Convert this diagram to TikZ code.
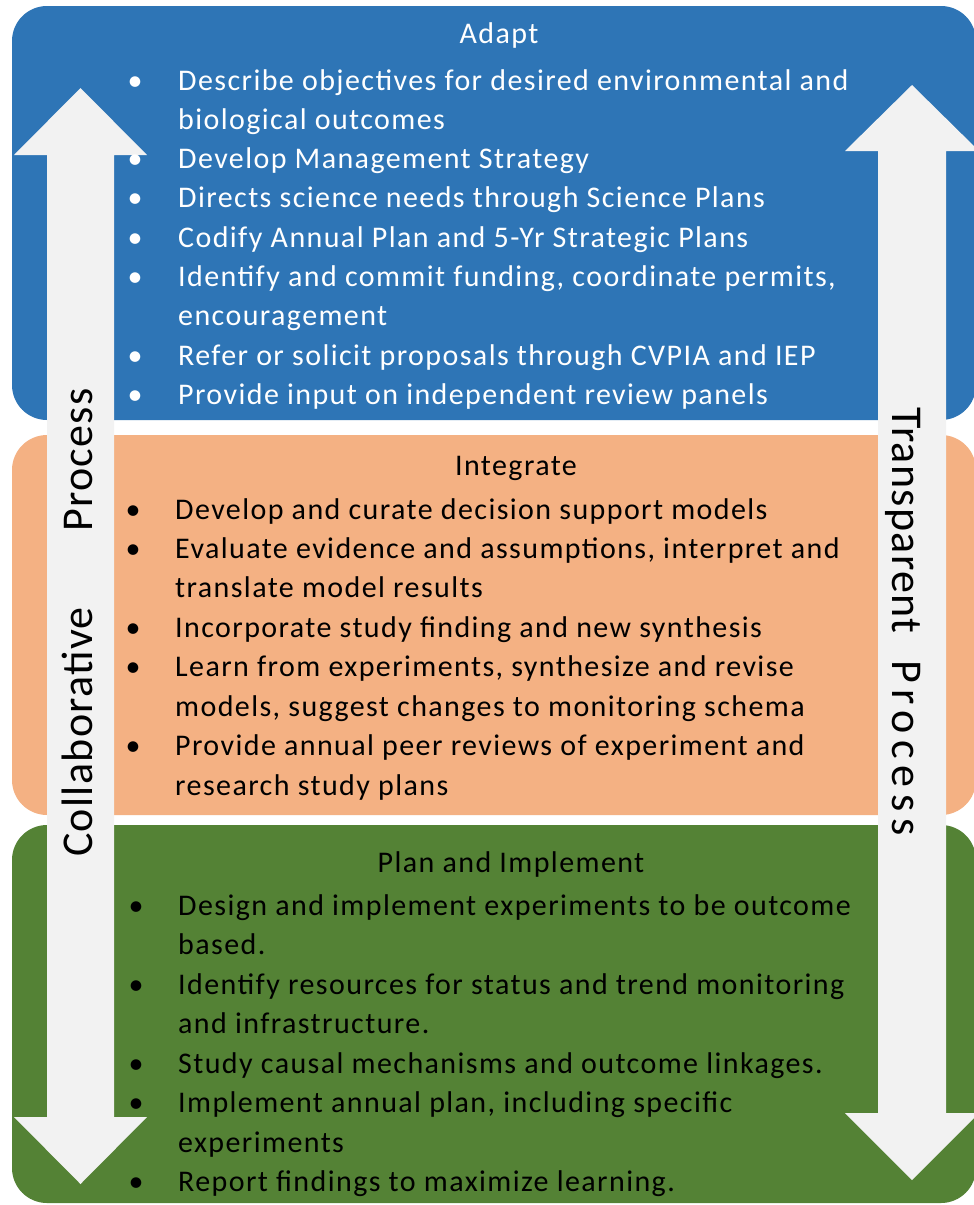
\documentclass[tikz,border=0pt]{standalone}
\usepackage{fontspec}
\setmainfont{Carlito}
\newfontfamily\bodyfont[LetterSpace=4.7]{Carlito}
\newfontfamily\sidefont[LetterSpace=3]{Carlito}
\newfontfamily\sidefontwide[LetterSpace=15]{Carlito}
\definecolor{adaptblue}{HTML}{2E75B6}
\definecolor{integorange}{HTML}{F4B183}
\definecolor{plangreen}{HTML}{548235}
\definecolor{arrowgray}{HTML}{F2F2F2}
\tikzset{
  bodytxt/.style={anchor=base west, inner sep=0pt, font=\bodyfont\fontsize{30}{36}\selectfont},
  bul/.style={anchor=base, inner sep=0pt, font=\fontsize{30}{36}\selectfont},
  ttl/.style={anchor=base, inner sep=0pt, font=\bodyfont\fontsize{30}{36}\selectfont},
  sidetxt/.style={anchor=base west, inner sep=0pt, rotate=#1, font=\sidefont\fontsize{44}{50}\selectfont},
}
\begin{document}
\begin{tikzpicture}[x=1pt, y=-1pt]
\useasboundingbox (0,0) rectangle (974,1205);
\fill[white] (0,0) rectangle (974,1205);
% the three panels
\fill[adaptblue, rounded corners=35pt] (12,6) rectangle (976,420);
\fill[integorange, rounded corners=35pt] (12,435) rectangle (976,815);
\fill[plangreen, rounded corners=35pt] (12,825) rectangle (976,1203);
% double arrows
\fill[arrowgray] (80.5,88) -- (147,155) -- (114,155) -- (114,1117) -- (147,1117) -- (80.5,1184)
  -- (14,1117) -- (47,1117) -- (47,155) -- (14,155) -- cycle;
\fill[arrowgray] (912,85) -- (979,151) -- (946,151) -- (946,1113) -- (979,1113) -- (912,1180)
  -- (845,1113) -- (878,1113) -- (878,151) -- (845,151) -- cycle;
\node[sidetxt=90] (collab) at (92,857) {Collaborative};
\node[sidetxt=90] (cproc) at (92,532) {Process};
\node[sidetxt=-90, font=\sidefont\fontsize{44}{50}\selectfont] (transp) at (892,407) {Transparent};
\node[sidetxt=-90, font=\sidefontwide\fontsize{44}{50}\selectfont] (tproc) at (892,660) {Process};
% Adapt
\node[ttl, white] (adapt) at (499,43) {Adapt};
\node[bul, white] (ab1) at (135,90) {\textbullet};
\node[bodytxt, white] (a1) at (178,90) {Describe objectives for desired environmental and};
\node[bodytxt, white] (a1b) at (178,129.3) {biological outcomes};
\node[bul, white] (ab2) at (135,168.6) {\textbullet};
\node[bodytxt, white] (a2) at (178,168.6) {Develop Management Strategy};
\node[bul, white] (ab3) at (135,207.9) {\textbullet};
\node[bodytxt, white] (a3) at (178,207.9) {Directs science needs through Science Plans};
\node[bul, white] (ab4) at (135,247.2) {\textbullet};
\node[bodytxt, white] (a4) at (178,247.2) {Codify Annual Plan and 5-Yr Strategic Plans};
\node[bul, white] (ab5) at (135,286.5) {\textbullet};
\node[bodytxt, white] (a5) at (178,286.5) {Identify and commit funding, coordinate permits,};
\node[bodytxt, white] (a5b) at (178,325.8) {encouragement};
\node[bul, white] (ab6) at (135,365.1) {\textbullet};
\node[bodytxt, white] (a6) at (178,365.1) {Refer or solicit proposals through CVPIA and IEP};
\node[bul, white] (ab7) at (135,404.4) {\textbullet};
\node[bodytxt, white] (a7) at (178,404.4) {Provide input on independent review panels};
% Integrate
\node[ttl] (integ) at (516,475) {Integrate};
\node[bul] (ib1) at (133,519) {\textbullet};
\node[bodytxt] (i1) at (175,519) {Develop and curate decision support models};
\node[bul] (ib2) at (133,558.5) {\textbullet};
\node[bodytxt] (i2) at (175,558.5) {Evaluate evidence and assumptions, interpret and};
\node[bodytxt] (i2b) at (175,597.5) {translate model results};
\node[bul] (ib3) at (133,637) {\textbullet};
\node[bodytxt] (i3) at (175,637) {Incorporate study finding and new synthesis};
\node[bul] (ib4) at (133,676.5) {\textbullet};
\node[bodytxt] (i4) at (175,676.5) {Learn from experiments, synthesize and revise};
\node[bodytxt] (i4b) at (175,716) {models, suggest changes to monitoring schema};
\node[bul] (ib5) at (133,755.5) {\textbullet};
\node[bodytxt] (i5) at (175,755.5) {Provide annual peer reviews of experiment and};
\node[bodytxt] (i5b) at (175,795) {research study plans};
% Plan and Implement
\node[ttl] (plan) at (511,872) {Plan and Implement};
\node[bul] (pb1) at (136,915) {\textbullet};
\node[bodytxt] (p1) at (178,915) {Design and implement experiments to be outcome};
\node[bodytxt] (p1b) at (178,954.5) {based.};
\node[bul] (pb2) at (136,994) {\textbullet};
\node[bodytxt] (p2) at (178,994) {Identify resources for status and trend monitoring};
\node[bodytxt] (p2b) at (178,1033.5) {and infrastructure.};
\node[bul] (pb3) at (136,1073) {\textbullet};
\node[bodytxt] (p3) at (178,1073) {Study causal mechanisms and outcome linkages.};
\node[bul] (pb4) at (136,1112.5) {\textbullet};
\node[bodytxt] (p4) at (178,1112.5) {Implement annual plan, including specific};
\node[bodytxt] (p4b) at (178,1152) {experiments};
\node[bul] (pb5) at (136,1191.5) {\textbullet};
\node[bodytxt] (p5) at (178,1191.5) {Report findings to maximize learning.};
\end{tikzpicture}
\end{document}
